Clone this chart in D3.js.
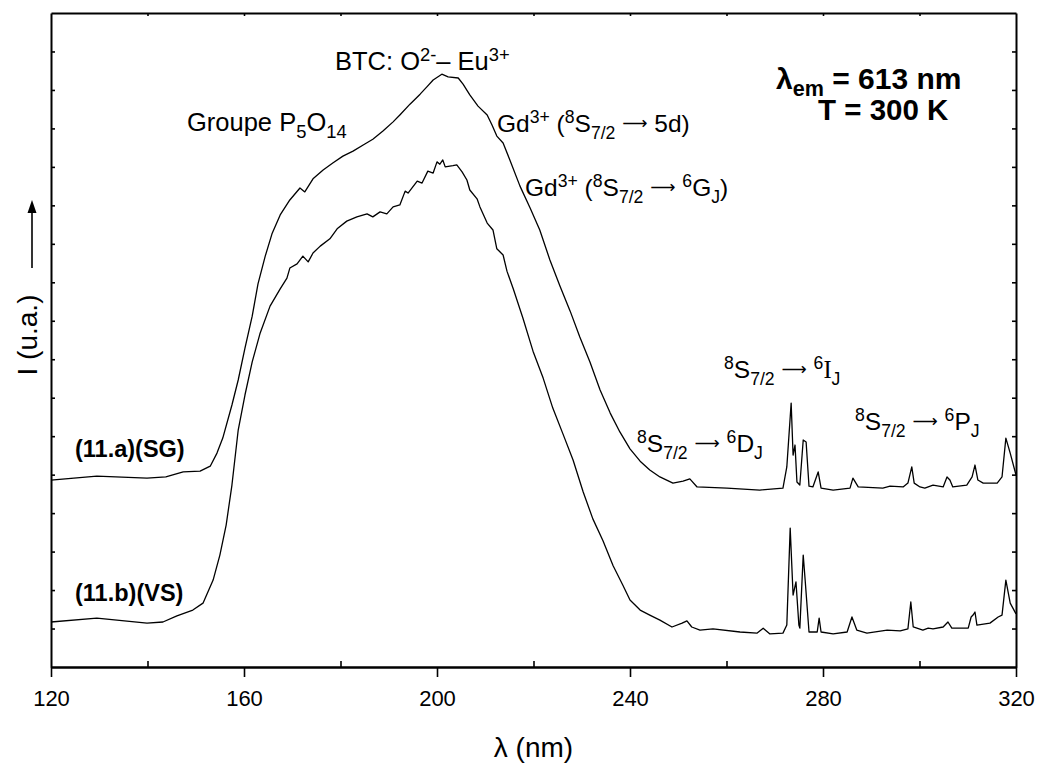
<!DOCTYPE html>
<html><head><meta charset="utf-8">
<script src="https://cdn.jsdelivr.net/npm/d3@7"></script>
<style>
body{margin:0;background:#fff}
svg text{font-family:"Liberation Sans",Arial,sans-serif;fill:#000}
</style>
</head><body>
<svg id="chart" width="1039" height="767"></svg>
<script>
// ---- data ----
const wavelengthSG = [120.0,129.5,139.9,143.8,147.4,150.9,153.0,154.4,155.6,157.5,158.8,160.2,161.7,162.9,164.4,165.8,167.5,169.5,171.6,172.6,174.3,176.4,178.4,180.5,182.6,184.7,186.7,188.8,190.9,192.3,194.4,196.5,197.9,199.2,201.0,202.3,204.4,205.4,206.8,208.5,210.4,211.4,212.4,213.7,215.1,217.2,219.3,221.3,223.4,225.5,227.6,229.6,231.7,233.8,235.9,237.9,240.0,242.1,244.1,246.2,248.9,251.0,252.4,253.9,260.1,266.9,271.7,272.5,273.4,273.8,274.2,274.6,275.2,275.9,276.5,277.1,277.9,279.0,279.6,282.1,285.6,286.2,287.3,292.4,293.9,296.6,297.6,298.4,298.9,300.1,301.1,302.8,304.9,305.7,306.3,306.9,309.8,310.9,311.5,312.1,313.2,316.1,317.1,317.9,318.8,320.0];
const intensitySG = [4.86,4.96,4.91,4.94,5.07,5.09,5.22,5.56,5.95,6.81,7.46,8.29,9.12,9.96,10.68,11.26,11.75,12.14,12.45,12.35,12.69,12.92,13.10,13.28,13.41,13.57,13.72,13.93,14.17,14.35,14.63,14.89,15.08,15.26,15.41,15.34,15.31,15.15,14.87,14.58,14.35,14.09,13.80,13.62,13.18,12.50,11.93,11.36,10.58,9.90,9.25,8.58,7.93,7.20,6.60,6.11,5.67,5.35,5.12,4.94,4.78,4.83,4.89,4.68,4.65,4.60,4.65,5.20,6.86,5.51,5.77,4.81,4.73,5.90,5.85,4.70,4.68,5.07,4.65,4.60,4.65,4.91,4.68,4.65,4.70,4.68,4.78,5.20,4.78,4.68,4.65,4.73,4.68,4.94,4.86,4.68,4.73,4.94,5.25,4.86,4.78,4.78,4.94,5.95,5.56,4.99];
const wavelengthVS = [120.0,129.5,139.9,143.2,146.1,149.4,151.5,153.6,155.0,156.3,157.5,158.8,160.2,161.7,163.3,165.4,167.5,168.9,169.5,171.0,172.2,173.3,174.3,175.8,177.8,179.3,181.3,183.4,185.5,186.7,188.2,189.6,190.9,192.3,193.4,194.0,195.9,196.9,198.1,199.2,200.0,200.6,201.2,201.7,203.3,204.1,205.2,206.2,206.8,208.3,208.9,210.4,211.6,212.4,213.7,214.5,215.8,217.8,219.9,222.0,224.0,226.1,228.2,230.3,232.3,234.4,236.5,238.5,240.0,242.1,244.1,246.2,248.7,250.8,251.8,252.8,254.5,257.2,262.8,266.3,267.6,269.0,271.7,272.5,273.2,273.8,274.4,275.0,275.2,275.9,276.3,277.1,278.8,279.2,279.6,282.1,285.0,286.0,287.0,289.1,293.3,296.0,297.6,298.2,298.7,300.7,301.8,302.8,304.9,305.9,306.7,310.1,310.7,311.1,311.5,311.9,314.6,316.3,317.1,317.9,318.8,320.0];
const intensityVS = [1.17,1.27,1.14,1.17,1.33,1.48,1.66,2.26,2.91,3.69,4.73,6.16,7.07,7.93,8.66,9.38,9.83,10.11,10.37,10.48,10.68,10.53,10.76,10.94,11.13,11.39,11.59,11.70,11.78,11.70,11.83,11.78,11.96,12.01,12.37,12.32,12.63,12.58,12.89,12.84,13.13,13.07,13.18,13.00,13.03,13.05,12.87,12.66,12.40,12.17,11.96,11.54,11.36,10.87,10.71,10.29,9.83,9.07,8.21,7.51,6.73,6.06,5.38,4.55,3.85,3.28,2.63,2.13,1.74,1.48,1.35,1.22,1.04,1.14,1.20,1.04,0.96,0.99,0.91,0.88,1.01,0.86,0.88,1.09,3.61,1.87,2.21,1.09,1.01,2.91,2.26,0.91,0.91,1.27,0.91,0.86,0.91,1.30,0.96,0.88,0.96,0.94,0.99,1.69,1.04,0.96,1.01,0.99,1.04,1.17,1.01,1.01,1.30,1.35,1.43,1.09,1.14,1.30,1.35,2.26,1.66,1.38];
const xMajorTicks = [120,160,200,240,280,320];
const xMinorTicks = [140,180,220,260,300];
const xTopTicks = [140,160,180,200,220,240,260,280,300];
const yTicks = d3.range(1,17);
const xDomain = [120,320];
const yDomain = [0,17];

// ---- layout ----
const L=51, R=1016, T=13, B=667;
const svg = d3.select("#chart");
const x = d3.scaleLinear().domain(xDomain).range([L,R]);
const y = d3.scaleLinear().domain(yDomain).range([B,T]);

function styleAxis(g){ g.selectAll("path,line").attr("stroke","#000"); g.select(".domain").attr("stroke-width",2); g.selectAll(".tick line").attr("stroke-width",1.6); }
svg.append("g").attr("transform",`translate(0,${B})`)
  .call(d3.axisBottom(x).tickValues(xMajorTicks).tickSize(10).tickSizeOuter(0).tickPadding(13).tickFormat(d3.format("d")))
  .call(styleAxis)
  .call(g=>g.selectAll("text").attr("font-size",22).attr("font-family","Liberation Sans, Arial, sans-serif"));
svg.append("g").attr("transform",`translate(0,${B})`)
  .call(d3.axisBottom(x).tickValues(xMinorTicks).tickSize(-6).tickSizeOuter(0).tickFormat(""))
  .call(styleAxis);
svg.append("g").attr("transform",`translate(0,${T})`)
  .call(d3.axisTop(x).tickValues(xTopTicks).tickSize(-3).tickSizeOuter(0).tickFormat(""))
  .call(styleAxis);
svg.append("g").attr("transform",`translate(${L},0)`)
  .call(d3.axisLeft(y).tickValues(yTicks).tickSize(-4).tickSizeOuter(0).tickFormat(""))
  .call(styleAxis);
svg.append("g").attr("transform",`translate(${R},0)`)
  .call(d3.axisRight(y).tickValues(yTicks).tickSize(-4).tickSizeOuter(0).tickFormat(""))
  .call(styleAxis);

// curves
const line = d3.line().x(d=>x(d[0])).y(d=>y(d[1]));
[[wavelengthSG,intensitySG],[wavelengthVS,intensityVS]].forEach(([w,v])=>{
  svg.append("path").datum(w.map((d,i)=>[d,v[i]]))
    .attr("d",line).attr("fill","none").attr("stroke","#000").attr("stroke-width",1.3).attr("stroke-linejoin","round");
});

// rich text helper: segments [text, kind, fontFamily]; kind = sup | sub | arrow | null
function rich(x0,y0,segs,size,opts={}){
  const t = svg.append("text").attr("x",x0).attr("y",y0).attr("font-size",size)
    .attr("font-weight",opts.bold?"bold":"normal").attr("xml:space","preserve").style("white-space","pre");
  let shift=0;
  const supS=opts.sup||0.36, subS=opts.sub||0.28;
  segs.forEach(s=>{
    const [str,kind,fam]=s;
    let target=0, fs=size;
    if(kind==="sup"){target=-supS*size; fs=0.72*size;}
    if(kind==="sub"){target=subS*size; fs=0.72*size;}
    if(kind==="arrow"){target=-0.13*size; fs=0.72*size;}
    const ts=t.append("tspan").text(str).attr("font-size",fs).attr("dy",target-shift);
    if(fam) ts.attr("font-family",fam);
    shift=target;
  });
  return t;
}
const SP=["\u00a0"];
const ARW=["\u27f6","arrow","DejaVu Sans, sans-serif"];
const SERIF="Liberation Serif, Times New Roman, serif";
rich(335,70,[["BTC: O"],["2-","sup"],["\u2013 Eu"],["3+","sup"]],25.5);
rich(187,131,[["Groupe P"],["5","sub"],["O"],["14","sub"]],25.5);
rich(497,132,[["Gd"],["3+","sup"],[" ("],["8","sup"],["S"],["7/2","sub"],SP,ARW,SP,["5d)"]],24.5);
rich(525,196,[["Gd"],["3+","sup"],[" ("],["8","sup"],["S"],["7/2","sub"],SP,ARW,SP,["6","sup"],["G"],["J","sub"],[")"]],24.5);
rich(776,89,[["\u03bb"],["em","sub"],[" = 613 nm"]],30,{bold:true,sub:0.22});
rich(818,120,[["T = 300 K"]],29.5,{bold:true});
rich(724,378,[["8","sup"],["S"],["7/2","sub"],SP,ARW,SP,["6","sup"],["I",null,SERIF],["J","sub"]],24.5);
rich(637,452,[["8","sup"],["S"],["7/2","sub"],SP,ARW,SP,["6","sup"],["D"],["J","sub"]],24.5);
rich(855,430,[["8","sup"],["S"],["7/2","sub"],SP,ARW,SP,["6","sup"],["P"],["J","sub"]],24.5);
rich(75,457,[["(11.a)(SG)"]],23.5,{bold:true});
rich(75,601,[["(11.b)(VS)"]],23.5,{bold:true});

// axis titles
svg.append("text").attr("x",(L+R)/2).attr("y",757).attr("text-anchor","middle").attr("font-size",28).text("\u03bb (nm)");
svg.append("text").attr("transform","translate(37,335) rotate(-90)").attr("text-anchor","middle").attr("font-size",28).text("I (u.a.)");
// arrow beside y title
svg.append("line").attr("x1",32).attr("x2",32).attr("y1",268).attr("y2",210).attr("stroke","#000").attr("stroke-width",1.6);
svg.append("path").attr("d","M32,200 L27.5,213 L36.5,213 Z").attr("fill","#000");
</script>
</body></html>
